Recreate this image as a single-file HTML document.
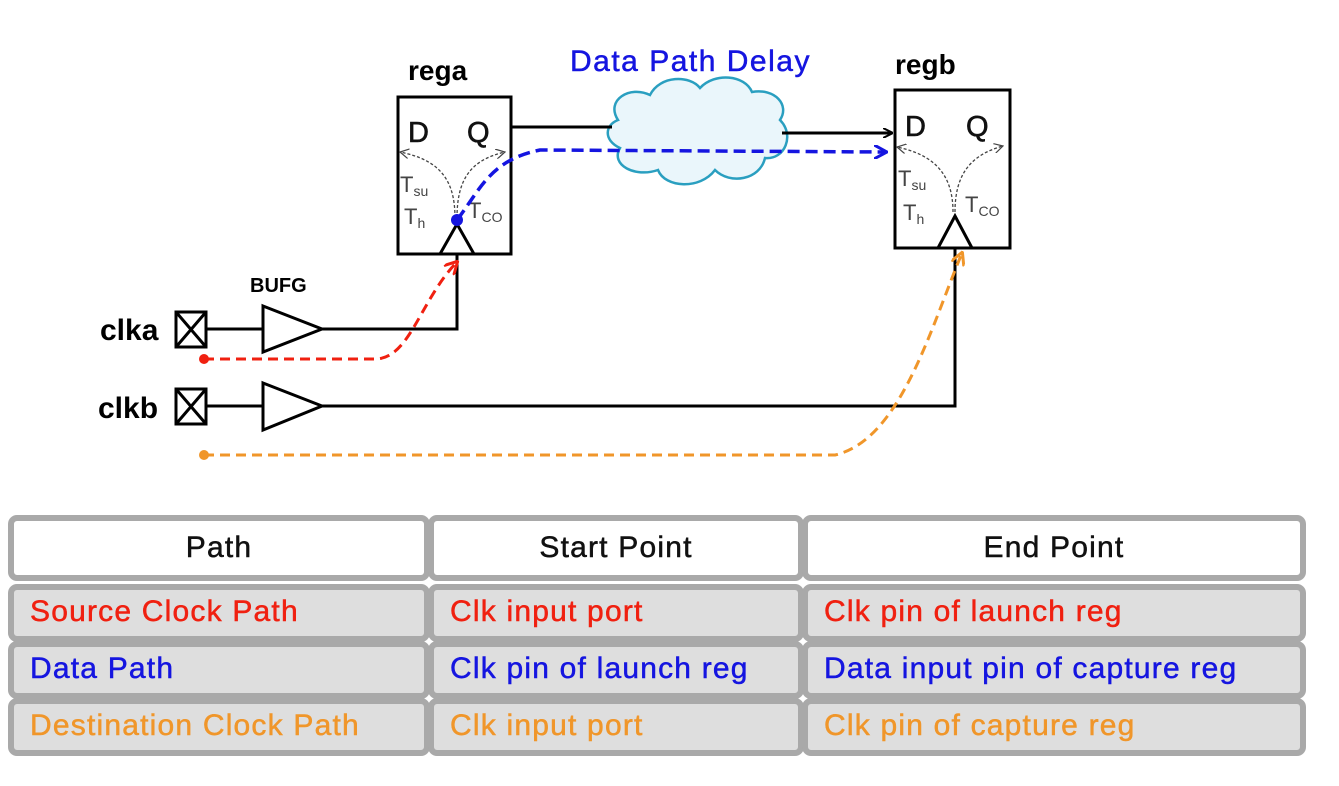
<!DOCTYPE html>
<html><head><style>
body{margin:0;background:#fff;width:1339px;height:786px;overflow:hidden;font-family:"Liberation Sans",sans-serif}
svg{position:absolute;left:0;top:0}
.c{position:absolute;box-sizing:border-box;border:6px solid #a9a9a9;border-radius:9px;background:#dedede;font-size:30px;letter-spacing:1.2px;padding-left:16px;line-height:44px;-webkit-text-stroke:0.5px currentColor}
.h{background:#fff;text-align:center;padding-left:0;color:#111;line-height:54px}
</style></head><body>
<svg width="1339" height="786" viewBox="0 0 1339 786">
<defs>
<marker id="ab" markerWidth="10" markerHeight="10" refX="9" refY="5" orient="auto" markerUnits="userSpaceOnUse"><path d="M0,0 L10,5 L0,10" fill="none" stroke="#000" stroke-width="2"/></marker>
<marker id="ablue" markerWidth="14" markerHeight="14" refX="12" refY="7" orient="auto" markerUnits="userSpaceOnUse"><path d="M0,0 L13,7 L0,14" fill="none" stroke="#1515e0" stroke-width="3"/></marker>
<marker id="ared" markerWidth="14" markerHeight="14" refX="12" refY="7" orient="auto" markerUnits="userSpaceOnUse"><path d="M0,0 L13,7 L0,14" fill="none" stroke="#f02010" stroke-width="3"/></marker>
<marker id="aor" markerWidth="14" markerHeight="14" refX="12" refY="7" orient="auto" markerUnits="userSpaceOnUse"><path d="M0,0 L13,7 L0,14" fill="none" stroke="#f0962a" stroke-width="3"/></marker>
<marker id="ag" markerWidth="10" markerHeight="10" refX="9" refY="5" orient="auto" markerUnits="userSpaceOnUse"><path d="M0,0 L9,5 L0,10" fill="none" stroke="#444" stroke-width="1.2"/></marker>
</defs>
<g font-weight="bold" fill="#000">
<text x="408" y="80" font-size="28">rega</text>
<text x="895" y="74" font-size="28">regb</text>
<text x="250" y="292" font-size="20">BUFG</text>
<text x="100" y="340" font-size="30">clka</text>
<text x="98" y="418" font-size="30">clkb</text>
</g>
<text x="570" y="71" font-size="30" letter-spacing="1.5" fill="#1515e0" stroke="#1515e0" stroke-width="0.5">Data Path Delay</text>
<path d="M618,120 C605,100 630,85 650,95 C660,75 690,75 700,88 C715,72 745,75 752,92 C775,88 790,105 780,120 C795,135 785,160 765,158 C760,180 730,185 715,170 C700,190 665,188 658,170 C635,178 610,165 620,148 C603,140 605,125 618,120 Z" fill="#eaf6fb" stroke="#2a9fc0" stroke-width="2.5"/>
<rect x="398" y="97" width="113" height="157" fill="#fff" stroke="#000" stroke-width="3"/>
<rect x="895" y="90" width="115" height="158" fill="#fff" stroke="#000" stroke-width="3"/>
<g font-size="29" fill="#111" stroke="#111" stroke-width="0.6"><text x="408" y="142">D</text><text x="467" y="142">Q</text><text x="905" y="136">D</text><text x="966" y="136">Q</text></g>
<g fill="#444" font-size="22">
<text x="400" y="192">T<tspan font-size="14" dy="4">su</tspan></text>
<text x="404" y="224">T<tspan font-size="14" dy="4">h</tspan></text>
<text x="468" y="218">T<tspan font-size="14" dy="4">CO</tspan></text>
<text x="898" y="186">T<tspan font-size="14" dy="4">su</tspan></text>
<text x="903" y="220">T<tspan font-size="14" dy="4">h</tspan></text>
<text x="965" y="212">T<tspan font-size="14" dy="4">CO</tspan></text>
</g>
<g fill="none" stroke="#444" stroke-width="1.3" stroke-dasharray="3,2">
<path d="M455,218 C455,180 440,160 400,152" marker-end="url(#ag)"/>
<path d="M457,218 C457,180 470,160 505,152" marker-end="url(#ag)"/>
<path d="M953,212 C953,175 935,155 897,147" marker-end="url(#ag)"/>
<path d="M955,212 C955,175 970,155 1003,146" marker-end="url(#ag)"/>
</g>
<g fill="none" stroke="#000" stroke-width="3">
<path d="M440,254 L457,224 L474,254"/>
<path d="M938,248 L955,216 L972,248"/>
<line x1="511" y1="127" x2="612" y2="127"/>
<line x1="782" y1="133" x2="892" y2="133" marker-end="url(#ab)"/>
<rect x="176" y="312" width="30" height="35"/><path d="M176,312 L206,347 M206,312 L176,347"/>
<rect x="176" y="389" width="30" height="35"/><path d="M176,389 L206,424 M206,389 L176,424"/>
<path d="M263,306 L322,329 L263,352 Z" fill="#fff"/>
<path d="M263,383 L322,406 L263,430 Z" fill="#fff"/>
<path d="M206,329 H263 M322,329 H457 V254"/>
<path d="M206,406 H263 M322,406 H955 V248"/>
</g>
<path d="M457,220 C480,190 490,160 540,150 L886,152" fill="none" stroke="#1515e0" stroke-width="3.5" stroke-dasharray="12,6" marker-end="url(#ablue)"/>
<circle cx="457" cy="220" r="6" fill="#1515e0"/>
<path d="M204,359 H375 C410,359 420,300 457,262" fill="none" stroke="#f02010" stroke-width="3" stroke-dasharray="10,6" marker-end="url(#ared)"/>
<circle cx="204" cy="359" r="5" fill="#f02010"/>
<path d="M204,455 H835 C900,440 930,330 962,253" fill="none" stroke="#f0962a" stroke-width="3" stroke-dasharray="10,6" marker-end="url(#aor)"/>
<circle cx="204" cy="455" r="5" fill="#f0962a"/>
</svg>
<div class="c h" style="left:8px;top:515px;width:422px;height:66px">Path</div>
<div class="c h" style="left:428px;top:515px;width:376px;height:66px">Start Point</div>
<div class="c h" style="left:802px;top:515px;width:504px;height:66px">End Point</div>
<div class="c" style="left:8px;top:584px;width:422px;height:58px;color:#f02010">Source Clock Path</div>
<div class="c" style="left:428px;top:584px;width:376px;height:58px;color:#f02010">Clk input port</div>
<div class="c" style="left:802px;top:584px;width:504px;height:58px;color:#f02010">Clk pin of launch reg</div>
<div class="c" style="left:8px;top:641px;width:422px;height:58px;color:#1515e0">Data Path</div>
<div class="c" style="left:428px;top:641px;width:376px;height:58px;color:#1515e0">Clk pin of launch reg</div>
<div class="c" style="left:802px;top:641px;width:504px;height:58px;color:#1515e0">Data input pin of capture reg</div>
<div class="c" style="left:8px;top:698px;width:422px;height:58px;color:#f0962a">Destination Clock Path</div>
<div class="c" style="left:428px;top:698px;width:376px;height:58px;color:#f0962a">Clk input port</div>
<div class="c" style="left:802px;top:698px;width:504px;height:58px;color:#f0962a">Clk pin of capture reg</div>
</body></html>
